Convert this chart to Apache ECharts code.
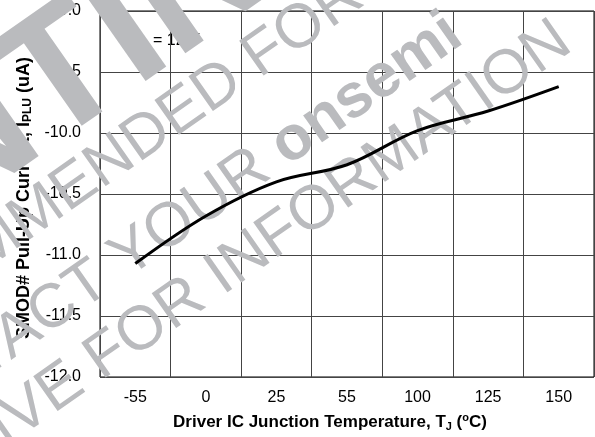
<!DOCTYPE html>
<html>
<head>
<meta charset="utf-8">
<script src="https://cdn.jsdelivr.net/npm/echarts@6/dist/echarts.min.js"></script>
<style>
html,body{margin:0;padding:0;background:#fff;}
#c{width:595px;height:437px;}
</style>
</head>
<body>
<div id="c"></div>
<script>
// ---- data ----
var temperatures = ['-55', '0', '25', '55', '100', '125', '150'];
var pullUpCurrent = [-11.07, -10.68, -10.40, -10.26, -9.98, -9.82, -9.62];
var yTicks = { min: -12.0, max: -9.0, step: 0.5 };

var FONT = '"Liberation Sans", Arial, Helvetica, sans-serif';
var chart = echarts.init(document.getElementById('c'), null, { renderer: 'canvas' });

// ---- watermark (decorative overlay text) ----
var ANG = 35 * Math.PI / 180;
var CA = Math.cos(ANG), SA = Math.sin(ANG);
var WM = '#babbbe';
function wmPiece(txt, size, weight, bx, by, align) {
  var off = 0.3465 * size;
  return {
    type: 'text', x: bx - off * SA, y: by - off * CA, rotation: ANG, z: 1, silent: true,
    style: {
      text: txt, fill: WM,
      font: weight + ' ' + size + 'px ' + FONT,
      align: align, verticalAlign: 'middle',
      textAlign: align, textVerticalAlign: 'middle'
    }
  };
}
// prefix ends at anchor (right aligned), suffix starts at anchor (left aligned)
function wmLine(prefix, pw, suffix, sw, size, ax, ay) {
  return [wmPiece(prefix, size, pw, ax, ay, 'right'), wmPiece(suffix, size, sw, ax, ay, 'left')];
}
var wm = [];
wm = wm.concat(wmLine('DISCONT', 'bold', 'INUED', 'bold', 175, 143, 98));
wm = wm.concat(wmLine('NOT RECOMMENDED ', 'normal', 'FOR NEW DESIGN', 'normal', 62, 262, 82));
wm = wm.concat(wmLine('CONTACT YOUR ', 'normal', 'onsemi', 'bold', 62, 290, 170));
wm = wm.concat(wmLine('REPRESENTATIVE ', 'normal', 'FOR INFORMATION', 'normal', 62, 104, 384));

var option = {
  backgroundColor: '#ffffff',
  animation: false,
  grid: { left: 100, right: 1, top: 11, bottom: 60, show: true, borderColor: '#000', borderWidth: 1, containLabel: false, outerBoundsMode: 'none' },
  xAxis: {
    type: 'category',
    data: temperatures,
    boundaryGap: true,
    axisLine: { show: false },
    axisTick: { show: false },
    axisLabel: { color: '#000', fontFamily: FONT, fontSize: 16, margin: 13, interval: 0 },
    splitLine: { show: true, interval: 0, lineStyle: { color: '#444', width: 1 } },
    name: '{b|Driver IC Junction Temperature, T}{sub|J}{b| (}{sup|o}{b|C)}',
    nameLocation: 'middle',
    nameGap: 35,
    nameTextStyle: {
      padding: [0, 34, 0, 0],
      rich: {
        b: { fontFamily: FONT, fontSize: 17, fontWeight: 'bold', color: '#000', lineHeight: 20 },
        sub: { fontFamily: FONT, fontSize: 11, fontWeight: 'bold', color: '#000', lineHeight: 11, verticalAlign: 'bottom' },
        sup: { fontFamily: FONT, fontSize: 11, fontWeight: 'bold', color: '#000', lineHeight: 11, verticalAlign: 'top' }
      }
    }
  },
  yAxis: {
    type: 'value',
    min: yTicks.min, max: yTicks.max, interval: yTicks.step,
    axisLine: { show: false },
    axisTick: { show: false },
    axisLabel: { color: '#000', fontFamily: FONT, fontSize: 16, margin: 19, formatter: function (v) { return v.toFixed(1); } },
    splitLine: { show: true, lineStyle: { color: '#444', width: 1 } },
    name: '{b|SMOD# Pull-Up Current, I}{sub|PLU}{b| (uA)}',
    nameLocation: 'middle',
    nameGap: 63,
    nameTextStyle: {
      padding: [0, 8, 0, 0],
      rich: {
        b: { fontFamily: FONT, fontSize: 18, fontWeight: 'bold', color: '#000', lineHeight: 20 },
        sub: { fontFamily: FONT, fontSize: 12, fontWeight: 'bold', color: '#000', lineHeight: 12, verticalAlign: 'bottom' }
      }
    }
  },
  graphic: [
    {
      type: 'text', x: 119, y: 41, z: 0, silent: true,
      style: {
        text: '{v|V}{s|CIN}{v| = 12 V}',
        align: 'left', verticalAlign: 'middle', textAlign: 'left', textVerticalAlign: 'middle',
        rich: {
          v: { fontFamily: FONT, fontSize: 16, fill: '#000', color: '#000', lineHeight: 20 },
          s: { fontFamily: FONT, fontSize: 11, fill: '#000', color: '#000', lineHeight: 11, verticalAlign: 'bottom' }
        }
      }
    }
  ].concat(wm),
  series: [{
    type: 'line',
    data: pullUpCurrent,
    smooth: 0.35,
    symbol: 'none',
    z: 5,
    lineStyle: { color: '#000', width: 3 }
  }]
};
chart.setOption(option);
</script>
</body>
</html>
